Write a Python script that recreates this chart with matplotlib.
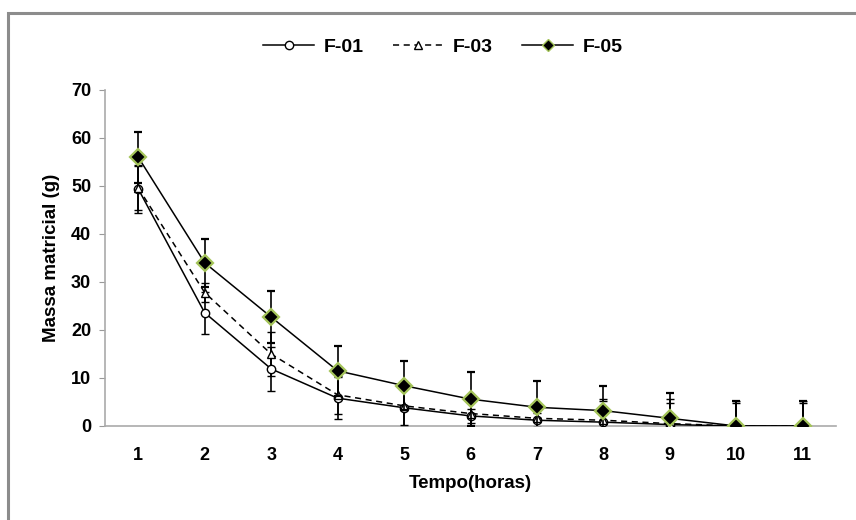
import matplotlib.pyplot as plt
from matplotlib.patches import Rectangle
from matplotlib.lines import Line2D

# === DATA ===
tempo = [1, 2, 3, 4, 5, 6, 7, 8, 9, 10, 11]

f01 = [49.4, 23.6, 11.9, 5.8, 3.8, 2.1, 1.2, 0.8, 0.3, 0.0, 0.0]
f01_err = [5.0, 4.4, 4.6, 4.4, 4.5, 1.5, 1.5, 4.8, 4.5, 4.8, 4.8]

f03 = [49.6, 27.8, 15.0, 6.5, 4.2, 2.6, 1.6, 1.2, 0.5, 0.0, 0.0]
f03_err = [4.5, 2.0, 4.6, 4.0, 4.0, 3.0, 3.0, 4.0, 5.1, 5.3, 5.3]

f05 = [56.0, 34.0, 22.7, 11.5, 8.4, 5.6, 3.9, 3.2, 1.6, 0.0, 0.0]
f05_err = [5.3, 5.0, 5.4, 5.2, 5.1, 5.6, 5.5, 5.1, 5.3, 5.2, 5.2]

labels = ["F-01", "F-03", "F-05"]

# === PLOT ===
plt.rcParams['font.family'] = ['Liberation Sans', 'DejaVu Sans']

fig = plt.figure(figsize=(8.56, 5.2), dpi=100)
ax = fig.add_axes([105/856, 94/520, (836-105)/856, (426-90)/520])

err_kw = dict(ecolor="black", elinewidth=1.2, capsize=3, capthick=1.5)

ax.errorbar(tempo, f01, yerr=f01_err, color="black", lw=1.1, marker="o", ms=6,
            mfc="white", mec="black", mew=1.0, zorder=3, **err_kw)
ax.errorbar(tempo, f03, yerr=f03_err, color="black", lw=1.1, ls=(0, (4, 3)), marker="^",
            ms=6, mfc="white", mec="black", mew=1.0, zorder=3, **err_kw)
ax.errorbar(tempo, f05, yerr=f05_err, color="black", lw=1.1, marker="D", ms=8,
            mfc="black", mec="#a4c45a", mew=1.6, zorder=4, **err_kw)

ax.set_xlim(0.5, 11.5)
ax.set_ylim(0, 70)
ax.set_xticks(tempo)
ax.set_yticks(range(0, 71, 10))
ax.tick_params(axis="x", length=0, pad=15, labelsize=13)
ax.tick_params(axis="y", length=4, color="#999999", pad=6, labelsize=13)
for lab in ax.get_xticklabels() + ax.get_yticklabels():
    lab.set_fontweight("bold")

for s in ["top", "right"]:
    ax.spines[s].set_visible(False)
for s in ["left", "bottom"]:
    ax.spines[s].set_color("#aaaaaa")
    ax.spines[s].set_linewidth(1.2)

ax.set_xlabel("Tempo(horas)", fontsize=13.5, fontweight="bold", labelpad=8)
ax.set_ylabel("Massa matricial (g)", fontsize=13.5, fontweight="bold", labelpad=8)

handles = [
    Line2D([], [], color="black", lw=1.1, marker="o", ms=6, mfc="white", mec="black"),
    Line2D([], [], color="black", lw=1.1, ls=(0, (4, 3)), marker="^", ms=6, mfc="white", mec="black"),
    Line2D([], [], color="black", lw=1.1, marker="D", ms=6, mfc="black", mec="#a4c45a"),
]
fig.legend(handles, labels, loc="center", bbox_to_anchor=(443/856, 1 - 47/520), ncol=3,
           frameon=False, prop={"weight": "bold", "size": 14}, handlelength=2.6,
           columnspacing=1.5, handletextpad=0.5)

# outer chart border (cropped on right / bottom)
fig.patches.append(Rectangle((8/856, -0.1), 1.2, 1.1 - 13/520, transform=fig.transFigure,
                             fill=False, edgecolor="#8c8c8c", lw=2.2))

fig.savefig("out.png", dpi=100)
